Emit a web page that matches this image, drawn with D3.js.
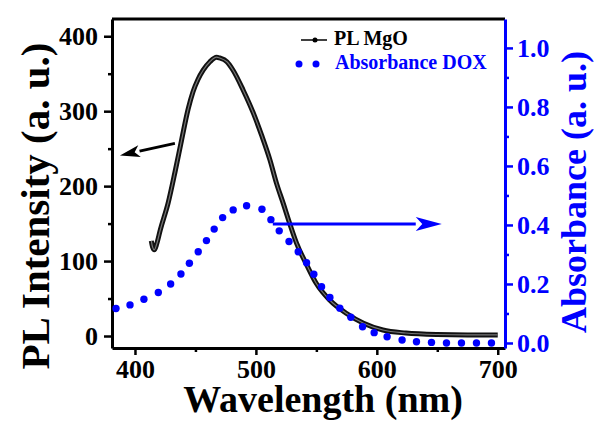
<!DOCTYPE html>
<html>
<head>
<meta charset="utf-8">
<script src="https://cdn.jsdelivr.net/npm/d3@7"></script>
<style>
  body { margin: 0; background: #fff; }
  text { font-family: "Liberation Serif", "Times New Roman", serif; font-weight: bold; }
</style>
</head>
<body>
<div id="chart"></div>
<script>
// PL MgO emission (wavelength nm, intensity a.u.)
const plWave = [413.5, 414.5, 416, 418, 421, 427.5, 433, 438.6, 444, 448, 452, 456.5, 462, 467.5, 470,
  476, 481, 489.5, 498, 504.7, 511.6, 517, 522.6, 528, 533.6, 542, 550, 561, 575, 589, 605, 624, 650, 675, 700];
const plValue = [127, 119, 115, 123, 142, 178, 218, 262, 303, 326, 342, 355, 366, 372, 371,
  366, 355, 328, 297, 268, 235, 204, 177, 150, 124, 95, 70, 48, 30, 17, 8, 4, 2, 1.5, 1.5];

// Absorbance DOX (wavelength nm, absorbance a.u.)
const absWave = [384.3, 395.9, 407.4, 419.3, 429.5, 438, 445, 452.3, 459.1, 465.5, 472.5, 481.2, 492.3,
  505, 512.4, 519.3, 527.4, 535, 541.9, 547.9, 554.3, 561.2, 569.4, 578.5, 588.2, 597.8, 608.5,
  620.9, 632.8, 645.2, 657.6, 670, 682.4, 694.8];
const absValue = [0.117, 0.129, 0.148, 0.171, 0.200, 0.234, 0.270, 0.309, 0.347, 0.386, 0.425, 0.451, 0.465,
  0.453, 0.418, 0.380, 0.344, 0.309, 0.272, 0.233, 0.191, 0.154, 0.118, 0.087, 0.055, 0.035, 0.021,
  0.010, 0.004, 0.002, 0.0, 0.0, 0.0, 0.0];

// Ticks
const xTicks = [400, 500, 600, 700];
const xMinor = [450, 550, 650];
const plTicks = [0, 100, 200, 300, 400];
const plMinor = [50, 150, 250, 350];
const absTicks = [0.0, 0.2, 0.4, 0.6, 0.8, 1.0];
const absMinor = [0.1, 0.3, 0.5, 0.7, 0.9];

// Annotation arrows, in data units
const plArrow = { from: [433, 257], to: [387.6, 241] };
const absArrow = { from: [514, 0.403], to: [653.7, 0.403] };

const W = 594, H = 421;
const margin = { top: 19, right: 89, bottom: 73, left: 112 };
const width = W - margin.left - margin.right;
const height = H - margin.top - margin.bottom;
const blue = "#0000ff";

const svg = d3.select("#chart").append("svg")
    .attr("width", W)
    .attr("height", H);
const g = svg.append("g").attr("transform", `translate(${margin.left},${margin.top})`);

// Scales
const x = d3.scaleLinear().domain([381, 706]).range([0, width]);
const yPL = d3.scaleLinear().domain([-16, 423]).range([height, 0]);
const yAbs = d3.scaleLinear().domain([-0.017, 1.098]).range([height, 0]);

// Axes
const styleAxis = (sel, color, size) => {
    sel.select(".domain").attr("stroke", color).attr("stroke-width", 3);
    sel.selectAll(".tick line").attr("stroke", color).attr("stroke-width", 2.5);
    sel.selectAll(".tick text").attr("fill", color).style("font-size", size + "px");
};

const xAxis = g.append("g")
    .attr("transform", `translate(0,${height})`)
    .call(d3.axisBottom(x).tickValues(xTicks).tickSize(7).tickSizeOuter(0).tickPadding(5).tickFormat(d3.format("d")));
styleAxis(xAxis, "#000", 26);
g.append("g").attr("transform", `translate(0,${height})`)
    .call(d3.axisBottom(x).tickValues(xMinor).tickSize(4).tickSizeOuter(0).tickFormat(""))
    .call(s => { s.select(".domain").remove(); s.selectAll("line").attr("stroke", "#000").attr("stroke-width", 2.5); });

const yAxisL = g.append("g")
    .call(d3.axisLeft(yPL).tickValues(plTicks).tickSize(8).tickSizeOuter(0).tickPadding(6).tickFormat(d3.format("d")));
styleAxis(yAxisL, "#000", 26);
g.append("g")
    .call(d3.axisLeft(yPL).tickValues(plMinor).tickSize(4).tickSizeOuter(0).tickFormat(""))
    .call(s => { s.select(".domain").remove(); s.selectAll("line").attr("stroke", "#000").attr("stroke-width", 2.5); });

// top frame
g.append("line").attr("x1", 0).attr("x2", width).attr("y1", 0).attr("y2", 0)
    .attr("stroke", "#000").attr("stroke-width", 3);

const yAxisR = g.append("g")
    .attr("transform", `translate(${width},0)`)
    .call(d3.axisRight(yAbs).tickValues(absTicks).tickSize(8).tickSizeOuter(0).tickPadding(4).tickFormat(d3.format(".1f")));
styleAxis(yAxisR, blue, 26);
g.append("g").attr("transform", `translate(${width},0)`)
    .call(d3.axisRight(yAbs).tickValues(absMinor).tickSize(4).tickSizeOuter(0).tickFormat(""))
    .call(s => { s.select(".domain").remove(); s.selectAll("line").attr("stroke", blue).attr("stroke-width", 2.5); });

// PL curve (dark outline with lighter core, like dense symbols)
const plData = plWave.map((w, i) => ({ w, v: plValue[i] }));
const plLine = d3.line().x(d => x(d.w)).y(d => yPL(d.v)).curve(d3.curveMonotoneX);
g.append("path").datum(plData).attr("d", plLine)
    .attr("fill", "none").attr("stroke", "#111").attr("stroke-width", 5).attr("stroke-linejoin", "round");
g.append("path").datum(plData).attr("d", plLine)
    .attr("fill", "none").attr("stroke", "#777").attr("stroke-width", 1.2);

// Absorbance dots
const absData = absWave.map((w, i) => ({ w, v: absValue[i] }));
g.selectAll(".dot").data(absData).enter().append("circle")
    .attr("class", "dot")
    .attr("cx", d => x(d.w)).attr("cy", d => yAbs(d.v)).attr("r", 3.7)
    .attr("fill", blue);

// Arrows
const drawArrow = (x1, y1, x2, y2, color, headLen, headW) => {
    const ang = Math.atan2(y2 - y1, x2 - x1);
    const bx = x2 - headLen * Math.cos(ang), by = y2 - headLen * Math.sin(ang);
    g.append("line").attr("x1", x1).attr("y1", y1).attr("x2", bx).attr("y2", by)
        .attr("stroke", color).attr("stroke-width", 3);
    const px = -Math.sin(ang) * headW, py = Math.cos(ang) * headW;
    g.append("path")
        .attr("d", `M${x2},${y2}L${bx + px},${by + py}L${bx + headLen * 0.25 * Math.cos(ang)},${by + headLen * 0.25 * Math.sin(ang)}L${bx - px},${by - py}Z`)
        .attr("fill", color);
};
drawArrow(x(plArrow.from[0]), yPL(plArrow.from[1]), x(plArrow.to[0]), yPL(plArrow.to[1]), "#000", 20, 6);
drawArrow(x(absArrow.from[0]), yAbs(absArrow.from[1]), x(absArrow.to[0]), yAbs(absArrow.to[1]), blue, 26, 7);

// Legend
const leg = svg.append("g");
leg.append("line").attr("x1", 301).attr("x2", 327).attr("y1", 40).attr("y2", 40)
    .attr("stroke", "#000").attr("stroke-width", 1.5);
leg.append("circle").attr("cx", 315).attr("cy", 40).attr("r", 2.5).attr("fill", "#000");
leg.append("text").attr("x", 334).attr("y", 45).style("font-size", "20px").attr("fill", "#000").text("PL MgO");
[299, 316].forEach(cx => leg.append("circle").attr("cx", cx).attr("cy", 64).attr("r", 3.5).attr("fill", blue));
leg.append("text").attr("x", 335).attr("y", 69).style("font-size", "20px").attr("fill", blue).text("Absorbance DOX");

// Axis titles
svg.append("text").attr("x", 323).attr("y", 412).attr("text-anchor", "middle")
    .style("font-size", "38px").attr("fill", "#000").text("Wavelength (nm)");
svg.append("text").attr("transform", "translate(49,206) rotate(-90)").attr("text-anchor", "middle")
    .style("font-size", "41px").attr("fill", "#000").text("PL Intensity (a. u.)");
svg.append("text").attr("transform", "translate(586,192) rotate(-90)").attr("text-anchor", "middle")
    .style("font-size", "36px").attr("fill", blue).text("Absorbance (a. u.)");
</script>
</body>
</html>
